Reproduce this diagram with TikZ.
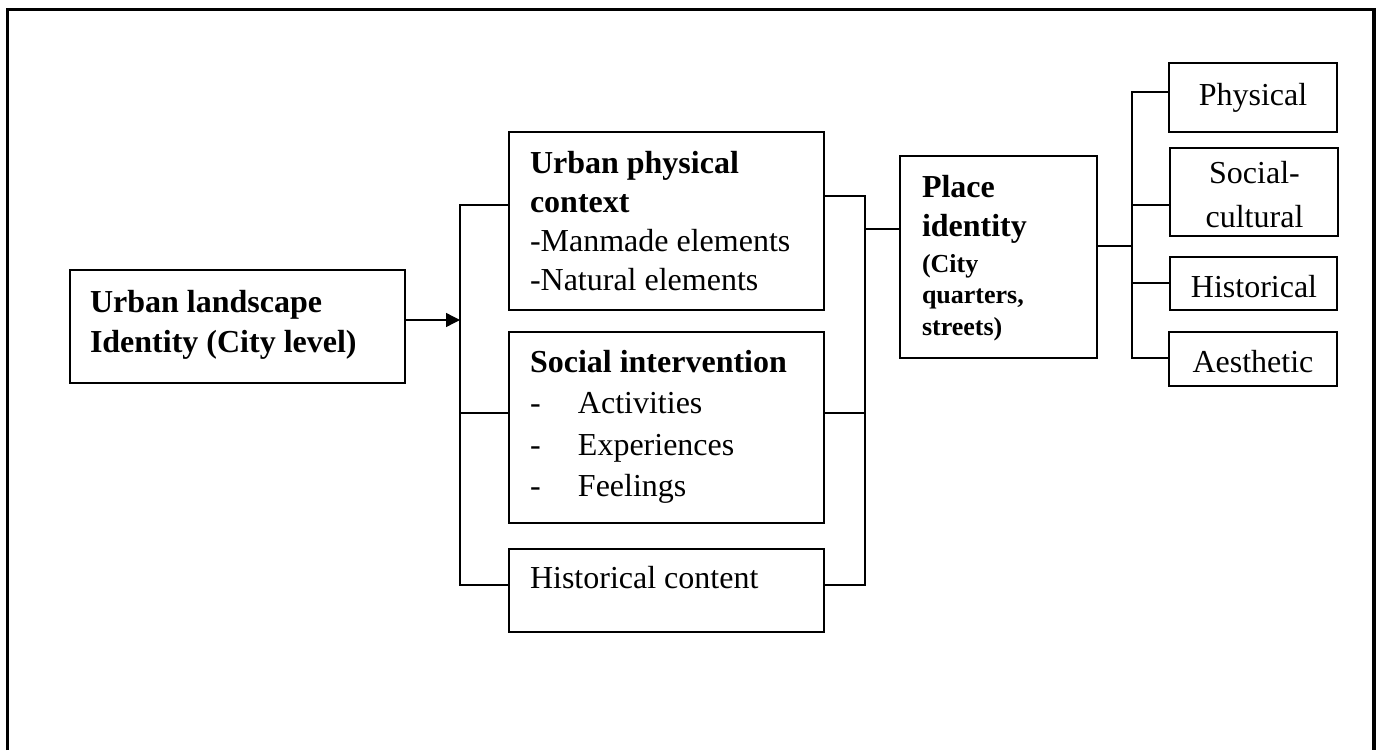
\documentclass[tikz,border=0pt]{standalone}
\usepackage{fontspec}
\setmainfont{Liberation Serif}
\usetikzlibrary{arrows.meta}
\begin{document}
\begin{tikzpicture}[x=1pt,y=-1pt,
  box/.style={draw, line width=1.6pt, inner sep=0pt, outer sep=0pt, anchor=north west},
  conn/.style={line width=1.4pt},
  txt/.style={inner sep=0pt, outer sep=0pt, anchor=base west, font=\fontsize{32}{40}\selectfont},
  ctxt/.style={inner sep=0pt, outer sep=0pt, anchor=base, font=\fontsize{32}{40}\selectfont},
  smalltxt/.style={inner sep=0pt, outer sep=0pt, anchor=base west, font=\fontsize{26}{31}\selectfont\bfseries}]
\useasboundingbox (0,0) rectangle (1382,750);
% frame
\draw[line width=3.3pt, line join=miter] (7.5,750) -- (7.5,9.3) -- (1374,9.3) -- (1374,750);

% boxes
\node[box, minimum width=335pt, minimum height=113pt] (lb) at (70,270) {};
\node[box, minimum width=315pt, minimum height=178pt] (b1) at (509,132) {};
\node[box, minimum width=315pt, minimum height=191pt] (b2) at (509,332) {};
\node[box, minimum width=315pt, minimum height=83pt] (b3) at (509,549) {};
\node[box, minimum width=197pt, minimum height=202pt] (pl) at (900,156) {};
\node[box, minimum width=168pt, minimum height=69pt] (r1) at (1169,63) {};
\node[box, minimum width=168pt, minimum height=88pt] (r2) at (1170,148) {};
\node[box, minimum width=167pt, minimum height=53pt] (r3) at (1170,257) {};
\node[box, minimum width=168pt, minimum height=54pt] (r4) at (1169,332) {};

% texts
\node[txt] (lbt) at (90,312) {\vtop{\baselineskip=40pt\hbox{\bfseries Urban landscape}\hbox{\bfseries Identity (City level)}}};
\node[txt] (b1t) at (530,173) {\vtop{\baselineskip=39.3pt\hbox{\bfseries Urban physical}\hbox{\bfseries context}\hbox{-Manmade elements}\hbox{-Natural elements}}};
\node[txt] (b2t) at (530,372) {\vtop{\baselineskip=41.5pt\hbox{\bfseries Social intervention}\hbox{\makebox[48pt][l]{-}Activities}\hbox{\makebox[48pt][l]{-}Experiences}\hbox{\makebox[48pt][l]{-}Feelings}}};
\node[txt] (b3t) at (530,588) {Historical content};
\node[txt] (plt) at (922,197) {\vtop{\baselineskip=39pt\hbox{\bfseries Place}\hbox{\bfseries identity}}};
\node[smalltxt] (pls) at (922,272) {\vtop{\baselineskip=31.5pt\hbox{(City}\hbox{quarters,}\hbox{streets)}}};
\node[ctxt] (r1t) at (1253,105) {Physical};
\node[txt] (r2t) at (1254,183) {\vtop{\baselineskip=44pt\hbox to 0pt{\hss Social-\hss}\hbox to 0pt{\hss cultural\hss}}};
\node[ctxt] (r3t) at (1254,297) {Historical};
\node[ctxt] (r4t) at (1253,372) {Aesthetic};

% connectors left
\coordinate (ja) at (460,320);
\coordinate (la) at (460,205);
\coordinate (lb2) at (460,413);
\coordinate (lc) at (460,585);
\draw[conn, -{Triangle[length=14pt,width=14pt]}] (lb.east |- ja) -- (ja);
\draw[conn] (b1.west |- la) -- (la) -- (lc) -- (b3.west |- lc);
\draw[conn] (b2.west |- lb2) -- (lb2);

% connectors middle
\coordinate (ra) at (865,196);
\coordinate (rm) at (865,229);
\coordinate (rb) at (865,413);
\coordinate (rc) at (865,585);
\draw[conn] (b1.east |- ra) -- (ra) -- (rc) -- (b3.east |- rc);
\draw[conn] (b2.east |- rb) -- (rb);
\draw[conn] (rm) -- (pl.west |- rm);

% connectors right
\coordinate (sa) at (1132,92);
\coordinate (sb) at (1132,205);
\coordinate (sm) at (1132,246);
\coordinate (sc) at (1132,283);
\coordinate (sd) at (1132,358);
\draw[conn] (pl.east |- sm) -- (sm);
\draw[conn] (r1.west |- sa) -- (sa) -- (sd) -- (r4.west |- sd);
\draw[conn] (r2.west |- sb) -- (sb);
\draw[conn] (r3.west |- sc) -- (sc);
\end{tikzpicture}
\end{document}
